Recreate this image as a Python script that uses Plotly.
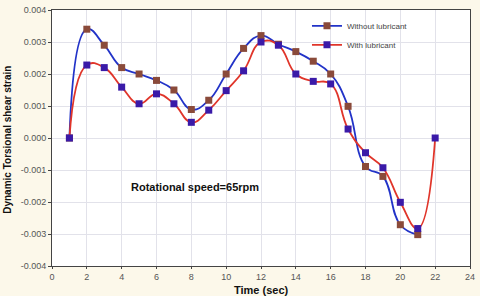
import plotly.graph_objects as go

time_without = [1, 2, 3, 4, 5, 6, 7, 8, 9, 10, 11, 12, 13, 14, 15, 16, 17, 18, 19, 20, 21]
strain_without = [0.0, 0.0034, 0.0029, 0.0022, 0.0020, 0.0018, 0.0015, 0.00089, 0.00118, 0.0020,
                  0.0028, 0.0032, 0.00293, 0.0027, 0.0024, 0.0020, 0.00099, -0.00089, -0.0012,
                  -0.00271, -0.00302]

time_with = [1, 2, 3, 4, 5, 6, 7, 8, 9, 10, 11, 12, 13, 14, 15, 16, 17, 18, 19, 20, 21, 22]
strain_with = [0.0, 0.00228, 0.0022, 0.00159, 0.00107, 0.00138, 0.00107, 0.00049, 0.00087, 0.00148,
               0.0021, 0.0030, 0.0029, 0.0020, 0.00177, 0.00169, 0.00028, -0.00046, -0.00093,
               -0.00201, -0.00283, 0.0]

x_ticks = [0, 2, 4, 6, 8, 10, 12, 14, 16, 18, 20, 22, 24]
y_ticks = [-0.004, -0.003, -0.002, -0.001, 0.0, 0.001, 0.002, 0.003, 0.004]
y_tick_labels = ["-0.004", "-0.003", "-0.002", "-0.001", "0.000", "0.001", "0.002", "0.003", "0.004"]

fig = go.Figure()
fig.add_trace(go.Scatter(
    x=time_without, y=strain_without, name="Without lubricant",
    mode="lines+markers",
    line=dict(color="#2233c8", width=1.8, shape="spline", smoothing=1.3),
    marker=dict(symbol="square", size=7, color="#8a4a3a"),
))
fig.add_trace(go.Scatter(
    x=time_with, y=strain_with, name="With lubricant",
    mode="lines+markers",
    line=dict(color="#e0352a", width=1.8, shape="spline", smoothing=1.3),
    marker=dict(symbol="square", size=7, color="#3a1aa8"),
))

fig.add_annotation(x=8.2, y=-0.00153, text="<b>Rotational speed=65rpm</b>", showarrow=False,
                   font=dict(family="Liberation Sans, Arial", size=11, color="#111"))
fig.add_annotation(xref="paper", yref="paper", x=0.502, y=-0.092, text="<b>Time (sec)</b>",
                   showarrow=False, xanchor="center", yanchor="middle",
                   font=dict(family="Liberation Sans, Arial", size=11, color="#111"))
fig.add_annotation(xref="paper", yref="paper", x=-0.107, y=0.494,
                   text="<b>Dynamic Torsional shear strain</b>", textangle=-90,
                   showarrow=False, xanchor="center", yanchor="middle",
                   font=dict(family="Liberation Sans, Arial", size=10, color="#111"))

fig.update_layout(
    width=480, height=296,
    margin=dict(l=52, r=8, t=5, b=30),
    paper_bgcolor="#fcf8ea",
    plot_bgcolor="#ffffff",
    font=dict(family="Liberation Sans, Arial", size=9, color="#555"),
    showlegend=True,
    legend=dict(x=0.61, y=0.995, xanchor="left", yanchor="top", bgcolor="rgba(0,0,0,0)",
                font=dict(size=8, color="#444"), tracegroupgap=0, itemwidth=30),
)
fig.update_xaxes(
    range=[0, 24], tickvals=x_ticks, showgrid=True, gridcolor="#e2e2ea", gridwidth=1,
    showline=True, linecolor="#444", linewidth=1, mirror=True, ticks="outside", ticklen=2,
    tickcolor="#444", zeroline=False,
)
fig.update_yaxes(
    range=[-0.004, 0.004], tickvals=y_ticks, ticktext=y_tick_labels, showgrid=True,
    gridcolor="#e2e2ea", gridwidth=1, showline=True, linecolor="#444", linewidth=1, mirror=True,
    ticks="outside", ticklen=3, tickcolor="#444", zeroline=False,
)

fig.write_html("out.html", config={"displayModeBar": False},
               post_script="document.body.style.margin='0';")
